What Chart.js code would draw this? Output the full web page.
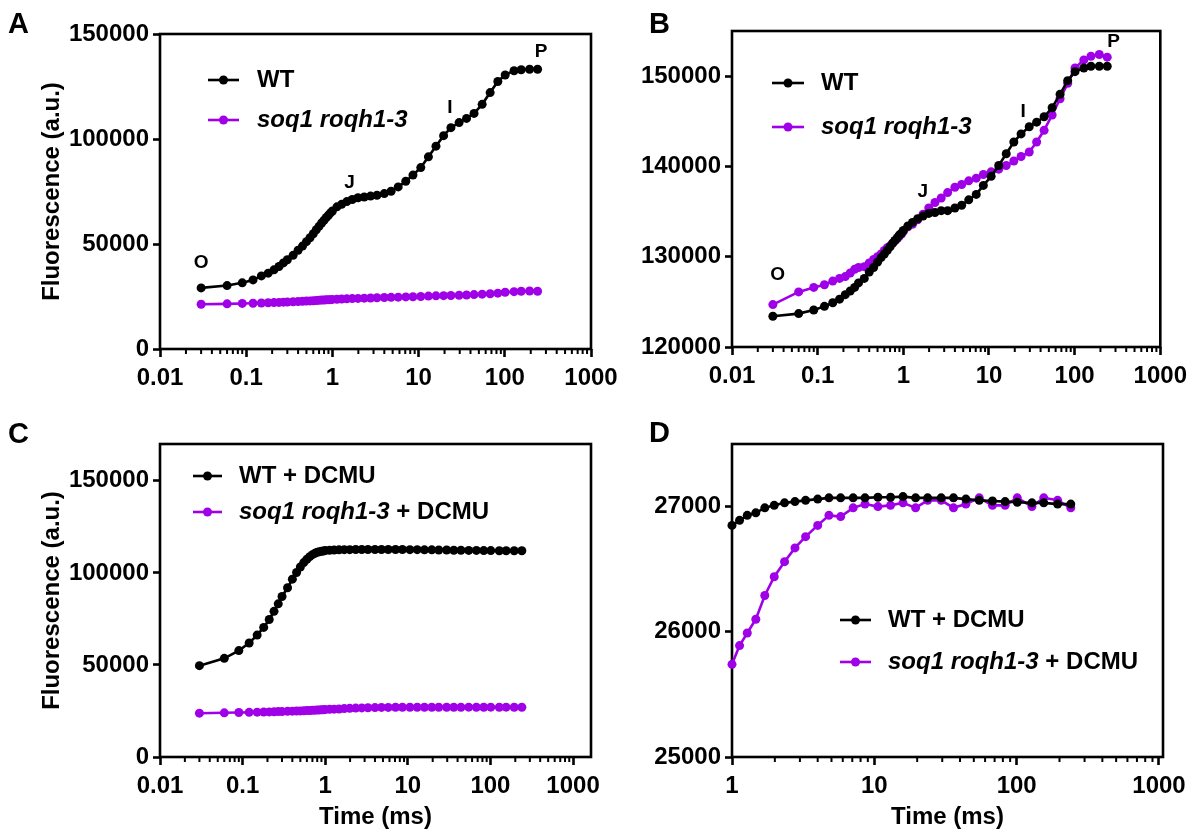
<!DOCTYPE html>
<html><head><meta charset="utf-8">
<script src="https://cdn.jsdelivr.net/npm/chart.js@4.4.1/dist/chart.umd.min.js"></script>
<style>
html,body{margin:0;padding:0;background:#fff;}
#wrap{position:relative;width:1194px;height:833px;overflow:hidden;background:#fff;}
canvas{position:absolute;left:0;top:0;}
</style></head><body>
<div id="wrap">
<canvas id="cA" width="1194" height="833"></canvas>
<canvas id="cB" width="1194" height="833"></canvas>
<canvas id="cC" width="1194" height="833"></canvas>
<canvas id="cD" width="1194" height="833"></canvas>
</div>
<script>
// ---------- data ----------
const timeMs = [0.03,0.06,0.09,0.12,0.15,0.18,0.21,0.24,0.27,0.30,
  0.35,0.40,0.45,0.50,0.55,0.60,0.65,0.70,0.75,0.80,0.85,0.90,0.95,1.0,
  1.13,1.28,1.47,1.7,1.98,2.34,2.77,3.29,4.0,4.8,5.8,7.1,8.6,10.6,13,15.9,19.5,23.7,29.5,36,44,54.6,67.6,83,101,128,155,194,240];

const wtA = [29100,30200,31500,32900,34800,36100,37700,39300,41000,42500,
  44600,47000,49000,51100,53000,54900,56800,58400,60000,61300,62600,63700,64800,65700,
  67700,68900,70200,71200,72000,72400,72800,73200,74000,75100,77200,79900,82800,86400,91500,96600,101600,105400,107800,109800,112200,116500,122100,127400,130500,132500,133000,133200,133200];
const mutA = [21300,21500,21700,21800,21900,22000,22100,22200,22300,22400,
  22500,22600,22700,22800,22900,23000,23100,23200,23300,23300,23400,23500,23500,23600,
  23700,23800,23900,24000,24100,24200,24300,24400,24500,24600,24700,24800,24900,25000,25200,25300,25400,25500,25600,25700,25900,26100,26300,26600,27000,27300,27500,27600,27500];

const wtB = [123400,123700,124100,124500,124900,125300,125800,126200,126600,127100,
  127600,128300,128800,129400,129900,130300,130700,131100,131500,131800,132100,132400,132600,132900,
  133400,133800,134200,134500,134800,134900,135100,135100,135400,135700,136300,136900,137900,138900,140100,141400,142700,143600,144400,144900,145500,146500,148000,149500,150500,150900,151100,151100,151100];
const mutB = [124700,126100,126600,126900,127300,127600,127800,128200,128600,128800,
  128900,129300,129700,130000,130300,130700,131000,131200,131500,131800,132000,132300,132500,132800,
  133300,133600,134100,134700,135400,136000,136500,137100,137700,138000,138400,138700,139100,139400,139700,140100,140600,141100,141600,142700,144000,145700,147500,149200,150900,151800,152200,152400,152100];

const wtC = [49600,53600,57800,61900,66200,70400,74700,79100,83200,87200,
  91900,96600,100200,103200,105600,107400,108800,109900,110600,111200,111500,111700,111900,112100,
  112300,112400,112500,112600,112600,112700,112700,112700,112700,112700,112700,112700,112700,112600,112600,112500,112500,112400,112400,112300,112300,112200,112200,112100,112100,112000,112000,112000,112000];
const mutC = [23800,24000,24150,24250,24350,24450,24500,24580,24650,24700,
  24800,24880,24960,25040,25120,25200,25280,25360,25440,25500,25570,25630,25690,25750,
  25890,25990,26100,26290,26440,26560,26670,26760,26850,26930,26920,26990,27020,27000,27010,27030,26990,27050,27050,26990,27020,27070,27010,27010,27070,27000,27070,27050,26990];

const timeD = [1.0,1.13,1.28,1.47,1.7,1.98,2.34,2.77,3.29,4.0,4.8,5.8,7.1,8.6,10.6,13,15.9,19.5,23.7,29.5,36,44,54.6,67.6,83,101,128,155,194,240];
const wtD = [26850,26890,26930,26950,26990,27010,27030,27040,27050,27060,27070,27070,27070,27070,27075,27075,27080,27070,27070,27070,27070,27060,27050,27045,27040,27035,27030,27030,27020,27020];
const mutD = [25740,25890,25990,26100,26290,26440,26560,26670,26760,26850,26930,26920,26990,27020,27000,27010,27030,26990,27050,27050,26990,27020,27070,27010,27010,27070,27000,27070,27050,26990];

const labelsAB = ['WT', 'soq1 roqh1-3'];
const labelsCD = ['WT + DCMU', 'soq1 roqh1-3 + DCMU'];
const italicPart = 'soq1 roqh1-3';

const xTicksABC = [0.01, 0.1, 1, 10, 100, 1000];
const xTickLabelsABC = ['0.01', '0.1', '1', '10', '100', '1000'];
const xTicksD = [1, 10, 100, 1000];
const xTickLabelsD = ['1', '10', '100', '1000'];
const yTicksA = [0, 50000, 100000, 150000];
const yTicksB = [120000, 130000, 140000, 150000];
const yTicksC = [0, 50000, 100000, 150000];
const yTicksD = [25000, 26000, 27000];

const phaseLabels = ['O', 'J', 'I', 'P'];
const phaseTimeA = [0.03, 1.58, 23, 263];
const phaseValA = [41000, 79000, 114800, 141400];
const phaseTimeB = [0.034, 1.69, 25, 285];
const phaseValB = [128000, 137200, 146000, 153800];

// ---------- style ----------
const FONT = "'Liberation Sans', Arial, Helvetica, sans-serif";
const BLACK = '#000000';
const PURPLE = '#a000e8';

const decor = {
  id: 'decor',
  beforeDatasetsDraw(chart, args, o) {
    const {ctx, chartArea: a, scales: {x}} = chart;
    ctx.save();
    ctx.strokeStyle = BLACK;
    ctx.lineWidth = 2.6;
    ctx.strokeRect(a.left, a.top, a.right - a.left, a.bottom - a.top);
    ctx.lineWidth = 2;
    const lo = Math.floor(Math.log10(x.min) + 1e-9);
    const hi = Math.round(Math.log10(o.tickMax));
    for (let e = lo; e < hi; e++) {
      for (let k = 2; k <= 9; k++) {
        const v = k * Math.pow(10, e);
        if (v < x.min || v > o.tickMax) continue;
        const px = x.getPixelForValue(v);
        ctx.beginPath(); ctx.moveTo(px, a.bottom); ctx.lineTo(px, a.bottom + 5); ctx.stroke();
      }
    }
    ctx.restore();
  },
  afterDraw(chart, args, o) {
    const {ctx, scales: {x, y}} = chart;
    ctx.save();
    ctx.fillStyle = BLACK;
    ctx.textAlign = 'left'; ctx.textBaseline = 'alphabetic';
    ctx.font = `bold 29px ${FONT}`;
    ctx.fillText(o.letter, o.letterX, o.letterY);
    if (o.phase) {
      ctx.font = `bold 19px ${FONT}`;
      ctx.textAlign = 'center'; ctx.textBaseline = 'middle';
      o.phase.labels.forEach((t, i) => {
        ctx.fillText(t, x.getPixelForValue(o.phase.xs[i]), y.getPixelForValue(o.phase.ys[i]));
      });
    }
    const L = o.legend;
    chart.data.datasets.forEach((ds, i) => {
      const yy = L.ys[i];
      ctx.strokeStyle = ds.borderColor; ctx.fillStyle = ds.borderColor;
      ctx.lineWidth = 2.6;
      ctx.beginPath(); ctx.moveTo(L.x1, yy); ctx.lineTo(L.x2, yy); ctx.stroke();
      ctx.beginPath(); ctx.arc((L.x1 + L.x2) / 2, yy, 4.5, 0, Math.PI * 2); ctx.fill();
      ctx.fillStyle = BLACK; ctx.textAlign = 'left'; ctx.textBaseline = 'middle';
      let tx = L.textX;
      const label = ds.label;
      if (label.startsWith(italicPart)) {
        ctx.font = `italic bold 24px ${FONT}`;
        ctx.fillText(italicPart, tx, yy);
        tx += ctx.measureText(italicPart).width;
        ctx.font = `bold 24px ${FONT}`;
        ctx.fillText(label.slice(italicPart.length), tx, yy);
      } else {
        ctx.font = `bold 24px ${FONT}`;
        ctx.fillText(label, tx, yy);
      }
    });
    ctx.restore();
  }
};

function tickFont() { return {family: FONT, size: 24, weight: 'bold'}; }

function xAxis(min, max, ticks, labels, H, title) {
  return {
    type: 'logarithmic', min, max,
    afterBuildTicks: s => { s.ticks = ticks.map(v => ({value: v, major: true})); },
    afterFit: s => { s.height = H; },
    grid: {display: true, drawOnChartArea: false, drawTicks: true, tickLength: 8, tickWidth: 2.6, tickColor: BLACK, color: BLACK},
    border: {display: false},
    ticks: {autoSkip: false, maxRotation: 0, minRotation: 0, padding: 7, color: BLACK, font: tickFont(),
      callback: (v, i) => labels[i]},
    title: title ? {display: true, text: title, padding: 0, color: BLACK, font: tickFont()} : {display: false}
  };
}
function yAxis(min, max, ticks, W, title) {
  return {
    type: 'linear', min, max,
    afterBuildTicks: s => { s.ticks = ticks.map(v => ({value: v})); },
    afterFit: s => { s.width = W; },
    grid: {display: true, drawOnChartArea: false, drawTicks: true, tickLength: 7, tickWidth: 2.6, tickColor: BLACK, color: BLACK},
    border: {display: false},
    ticks: {padding: 4, color: BLACK, font: tickFont(), callback: v => String(v)},
    title: title ? {display: true, text: title, padding: 0, color: BLACK, font: tickFont()} : {display: false}
  };
}
function pts(xs, ys) { return xs.map((xv, i) => ({x: xv, y: ys[i]})); }
function ds(label, color, xs, ys, order) {
  return {label, data: pts(xs, ys), borderColor: color, backgroundColor: color,
    pointBackgroundColor: color, pointBorderColor: color, pointRadius: 4.5, pointBorderWidth: 0,
    borderWidth: 2.6, tension: 0, clip: false, order};
}

function make(id, o) {
  new Chart(document.getElementById(id), {
    type: 'line',
    data: {datasets: [ds(o.labels[0], BLACK, o.xs, o.wt, 0), ds(o.labels[1], PURPLE, o.xs, o.mut, 1)]},
    options: {
      responsive: false, animation: false, devicePixelRatio: 1,
      layout: {padding: o.pad},
      scales: {x: o.x, y: o.y},
      plugins: {legend: {display: false}, tooltip: {enabled: false}, decor: o.decor}
    },
    plugins: [decor]
  });
}

make('cA', {
  labels: labelsAB, xs: timeMs, wt: wtA, mut: mutA,
  pad: {left: 37.6, top: 34, right: 603, bottom: 424},
  x: xAxis(0.01, 1000, xTicksABC, xTickLabelsABC, 60, null),
  y: yAxis(0, 150000, yTicksA, 122.4, 'Fluorescence (a.u.)'),
  decor: {tickMax: 1000, letter: 'A', letterX: 8, letterY: 33,
    phase: {labels: phaseLabels, xs: phaseTimeA, ys: phaseValA},
    legend: {x1: 208, x2: 239, ys: [80, 120], textX: 257}}
});
make('cB', {
  labels: labelsAB, xs: timeMs, wt: wtB, mut: mutB,
  pad: {left: 632, top: 31, right: 31, bottom: 426},
  x: xAxis(0.01, 1000, xTicksABC, xTickLabelsABC, 60, null),
  y: yAxis(120000, 155000, yTicksB, 100, null),
  decor: {tickMax: 1000, letter: 'B', letterX: 649, letterY: 33,
    phase: {labels: phaseLabels, xs: phaseTimeB, ys: phaseValB},
    legend: {x1: 772, x2: 804, ys: [83, 127], textX: 821}}
});
make('cC', {
  labels: labelsCD, xs: timeMs, wt: wtC, mut: mutC,
  pad: {left: 37.6, top: 444, right: 603, bottom: 1.6},
  x: xAxis(0.01, 1650, xTicksABC, xTickLabelsABC, 74.4, 'Time (ms)'),
  y: yAxis(0, 170000, yTicksC, 122.4, 'Fluorescence (a.u.)'),
  decor: {tickMax: 1000, letter: 'C', letterX: 8, letterY: 443,
    legend: {x1: 193, x2: 222, ys: [476, 512], textX: 239}}
});
make('cD', {
  labels: labelsCD, xs: timeD, wt: wtD, mut: mutD,
  pad: {left: 632, top: 444, right: 31, bottom: 1.6},
  x: xAxis(1, 1067, xTicksD, xTickLabelsD, 74.4, 'Time (ms)'),
  y: yAxis(25000, 27500, yTicksD, 100, null),
  decor: {tickMax: 1000, letter: 'D', letterX: 649, letterY: 442,
    legend: {x1: 840, x2: 871, ys: [620, 662], textX: 888}}
});
</script>
</body></html>
